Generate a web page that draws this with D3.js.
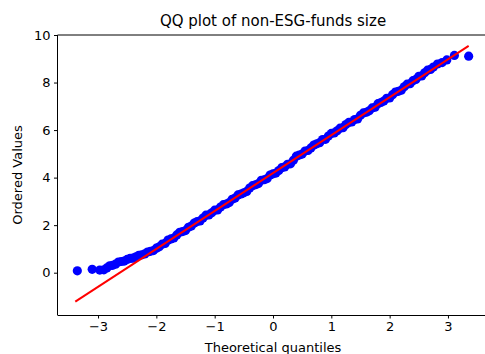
<!DOCTYPE html>
<html>
<head>
<meta charset="utf-8">
<script src="https://cdn.jsdelivr.net/npm/d3@7"></script>
<style>
  html, body { margin: 0; padding: 0; background: #fff; }
  svg { display: block; font-family: "DejaVu Sans", sans-serif; }
</style>
</head>
<body>
<svg id="chart" width="485" height="354"></svg>
<script>
// Theoretical normal quantiles of the plotted sample
const quantiles = [
  -3.355, -3.10, -2.97, -2.90,
  -2.85, -2.80, -2.75, -2.70, -2.65, -2.60, -2.55, -2.50, -2.45, -2.40,
  -2.35, -2.30, -2.25, -2.20, -2.15, -2.10, -2.05, -2.00, -1.95, -1.90,
  -1.85, -1.80, -1.75, -1.70, -1.65, -1.60, -1.55, -1.50, -1.45, -1.40,
  -1.35, -1.30, -1.25, -1.20, -1.15, -1.10, -1.05, -1.00, -0.95, -0.90,
  -0.85, -0.80, -0.75, -0.70, -0.65, -0.60, -0.55, -0.50, -0.45, -0.40,
  -0.35, -0.30, -0.25, -0.20, -0.15, -0.10, -0.05, 0.00, 0.05, 0.10,
  0.15, 0.20, 0.25, 0.30, 0.35, 0.40, 0.45, 0.50, 0.55, 0.60,
  0.65, 0.70, 0.75, 0.80, 0.85, 0.90, 0.95, 1.00, 1.05, 1.10,
  1.15, 1.20, 1.25, 1.30, 1.35, 1.40, 1.45, 1.50, 1.55, 1.60,
  1.65, 1.70, 1.75, 1.80, 1.85, 1.90, 1.95, 2.00, 2.05, 2.10,
  2.15, 2.20, 2.25, 2.30, 2.35, 2.40, 2.45, 2.50, 2.55, 2.60,
  2.65, 2.70, 2.75, 2.82, 2.90, 2.98, 3.11, 3.355
];

// Ordered values of non-ESG fund size (log scale)
const orderedValues = [
  0.08, 0.14, 0.11, 0.12,
  0.20, 0.29, 0.31, 0.36, 0.45, 0.47, 0.49, 0.56, 0.60, 0.61,
  0.67, 0.73, 0.75, 0.79, 0.87, 0.90, 0.93, 1.03, 1.09, 1.20,
  1.23, 1.37, 1.42, 1.46, 1.59, 1.70, 1.73, 1.77, 1.91, 1.96,
  2.09, 2.15, 2.18, 2.30, 2.42, 2.43, 2.52, 2.63, 2.64, 2.76,
  2.86, 2.89, 2.95, 3.09, 3.14, 3.27, 3.31, 3.36, 3.42, 3.56,
  3.66, 3.70, 3.75, 3.89, 3.91, 3.96, 4.11, 4.16, 4.19, 4.30,
  4.42, 4.45, 4.56, 4.58, 4.73, 4.90, 4.95, 4.99, 5.12, 5.14,
  5.25, 5.37, 5.42, 5.47, 5.60, 5.61, 5.75, 5.86, 5.88, 5.97,
  6.08, 6.10, 6.23, 6.32, 6.34, 6.44, 6.47, 6.62, 6.72, 6.75,
  6.81, 6.93, 6.96, 7.11, 7.16, 7.22, 7.34, 7.35, 7.49, 7.60,
  7.63, 7.68, 7.82, 7.93, 7.95, 8.08, 8.13, 8.26, 8.28, 8.41,
  8.52, 8.55, 8.65, 8.78, 8.84, 8.95, 9.14, 9.11
];

// Least-squares reference line endpoints (x, y)
const fitLineX = [-3.39, 3.355];
const fitLineY = [-1.22, 9.54];

const xTicks = [-3, -2, -1, 0, 1, 2, 3];
const yTicks = [0, 2, 4, 6, 8, 10];

const titleText = "QQ plot of non-ESG-funds size";
const xLabelText = "Theoretical quantiles";
const yLabelText = "Ordered Values";

const svg = d3.select("#chart");
const plotLeft = 57.5, plotRight = 488.5, plotTop = 35, plotBottom = 315;

const x = d3.scaleLinear().domain([-3.695, 3.695]).range([plotLeft, plotRight]);
const y = d3.scaleLinear().domain([-1.78, 10]).range([plotBottom, plotTop]);

// Plot area clip
svg.append("defs").append("clipPath").attr("id", "plotClip")
  .append("rect").attr("x", plotLeft).attr("y", plotTop)
  .attr("width", plotRight - plotLeft).attr("height", plotBottom - plotTop);

const plot = svg.append("g").attr("clip-path", "url(#plotClip)");

const pts = quantiles.map((q, i) => [q, orderedValues[i]]);

plot.selectAll("circle.pt").data(pts).enter().append("circle")
  .attr("class", "pt")
  .attr("cx", d => x(d[0]))
  .attr("cy", d => y(d[1]))
  .attr("r", 4.6)
  .attr("fill", "#0000ff");

plot.append("path")
  .datum(fitLineX.map((v, i) => [v, fitLineY[i]]))
  .attr("d", d3.line().x(d => x(d[0])).y(d => y(d[1])))
  .attr("fill", "none")
  .attr("stroke", "#ff0000")
  .attr("stroke-width", 2);

// Axes
const xAxis = svg.append("g").attr("transform", `translate(0,${plotBottom})`)
  .call(d3.axisBottom(x).tickValues(xTicks).tickSize(3.5).tickPadding(3.5)
    .tickFormat(d => d < 0 ? "\u2212" + Math.abs(d) : d));
const yAxis = svg.append("g").attr("transform", `translate(${plotLeft},0)`)
  .call(d3.axisLeft(y).tickValues(yTicks).tickSize(3.5).tickPadding(3.5));

[xAxis, yAxis].forEach(a => {
  a.select(".domain").remove();
  a.selectAll("text").attr("font-size", 13).attr("fill", "#000")
    .attr("font-family", "DejaVu Sans, sans-serif");
  a.selectAll("line").attr("stroke", "#000").attr("stroke-width", 1);
});

// Spines
svg.append("line").attr("x1", plotLeft).attr("x2", plotLeft).attr("y1", plotTop).attr("y2", plotBottom)
  .attr("stroke", "#000").attr("stroke-width", 1);
svg.append("line").attr("x1", plotLeft).attr("x2", plotRight).attr("y1", plotBottom + 0.5).attr("y2", plotBottom + 0.5)
  .attr("stroke", "#000").attr("stroke-width", 1);
svg.append("line").attr("x1", plotLeft).attr("x2", plotRight).attr("y1", plotTop).attr("y2", plotTop)
  .attr("stroke", "#000").attr("stroke-width", 1);

// Texts
svg.append("text").attr("x", (plotLeft + plotRight) / 2).attr("y", 26)
  .attr("text-anchor", "middle").attr("font-size", 15).attr("fill", "#000")
  .text(titleText);
svg.append("text").attr("x", (plotLeft + plotRight) / 2).attr("y", 352)
  .attr("text-anchor", "middle").attr("font-size", 13).attr("fill", "#000")
  .text(xLabelText);
svg.append("text").attr("transform", `translate(22,${(plotTop + plotBottom) / 2}) rotate(-90)`)
  .attr("text-anchor", "middle").attr("font-size", 13).attr("fill", "#000")
  .text(yLabelText);
</script>
</body>
</html>
